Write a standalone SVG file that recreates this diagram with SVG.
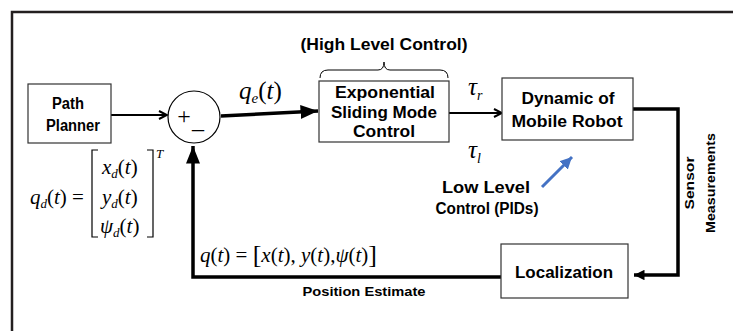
<svg xmlns="http://www.w3.org/2000/svg" width="733" height="331" viewBox="0 0 733 331">
<defs>
<style>
.box{fill:#fff;stroke:#333;stroke-width:1.2}
.lbl{font-family:"Liberation Sans",Arial,sans-serif;font-weight:bold;font-size:16px;fill:#000;text-anchor:middle}
.sm{font-size:12px}
.math{font-family:"Liberation Serif","Times New Roman",serif;font-style:italic;fill:#000}
.up{font-style:normal}
.wire{fill:none;stroke:#000;stroke-width:2}
.thick{fill:none;stroke:#000;stroke-width:3.5}
</style>
<marker id="open" viewBox="0 0 10 10" refX="9" refY="5" markerWidth="10" markerHeight="10" markerUnits="userSpaceOnUse" orient="auto"><path d="M1,1 L9,5 L1,9" fill="none" stroke="#000" stroke-width="2"/></marker>
<marker id="fill" viewBox="0 0 10 10" refX="10" refY="5" markerWidth="5" markerHeight="5" orient="auto"><path d="M0,1 L10,5 L0,9 Z" fill="#000"/></marker>
<marker id="small" viewBox="0 0 10 10" refX="10" refY="5" markerWidth="3" markerHeight="3" orient="auto"><path d="M0,0 L10,5 L0,10 Z" fill="#000"/></marker>
<marker id="blue" viewBox="0 0 10 10" refX="10" refY="5" markerWidth="4" markerHeight="4" orient="auto"><path d="M0,0 L10,5 L0,10 Z" fill="#4472C4"/></marker>
</defs>
<rect width="733" height="331" fill="#fff"/>
<path d="M12,331 V12 H733" fill="none" stroke="#231f20" stroke-width="2.5"/>

<g id="connectors">
<path class="wire" d="M111,115 H167" marker-end="url(#open)"/>
<path class="thick" d="M221,116 L318,111" marker-end="url(#fill)"/>
<path class="wire" d="M449,113 H502" marker-end="url(#open)"/>
<path class="thick" d="M633,109 H678 V275 H634" marker-end="url(#small)"/>
<path class="thick" d="M501,277 H193 V146" marker-end="url(#fill)"/>
<path d="M542,187 L572,157" fill="none" stroke="#4472C4" stroke-width="3" marker-end="url(#blue)"/>
<path d="M320,78 Q320,70 328,70 H378 Q384,70 384,62 Q384,70 390,70 H440 Q448,70 448,78" fill="none" stroke="#000" stroke-width="1"/>
</g>

<g id="path-planner">
<rect class="box" x="28" y="84" width="83" height="59"/>
<text class="lbl" x="68" y="109" textLength="32" lengthAdjust="spacingAndGlyphs">Path</text>
<text class="lbl" x="73" y="131" textLength="54" lengthAdjust="spacingAndGlyphs">Planner</text>
</g>

<g id="sum">
<circle cx="194" cy="117" r="26" fill="#fff" stroke="#000" stroke-width="1.2"/>
<text x="184" y="124" font-family="Liberation Serif,serif" font-size="24" text-anchor="middle">+</text>
<text x="198" y="128" font-family="Liberation Serif,serif" font-size="24" text-anchor="middle">_</text>
</g>

<g id="smc">
<rect class="box" x="319" y="81" width="130" height="61"/>
<text class="lbl" x="385" y="98" textLength="100" lengthAdjust="spacingAndGlyphs">Exponential</text>
<text class="lbl" x="384" y="118" textLength="106" lengthAdjust="spacingAndGlyphs">Sliding Mode</text>
<text class="lbl" x="384" y="137" textLength="62" lengthAdjust="spacingAndGlyphs">Control</text>
</g>

<g id="robot">
<rect class="box" x="502" y="78" width="131" height="62"/>
<text class="lbl" x="568" y="104" textLength="93" lengthAdjust="spacingAndGlyphs">Dynamic of</text>
<text class="lbl" x="567" y="127" textLength="111" lengthAdjust="spacingAndGlyphs">Mobile Robot</text>
</g>

<g id="localization">
<rect class="box" x="501" y="244" width="127" height="54"/>
<text class="lbl" x="564" y="278" textLength="98" lengthAdjust="spacingAndGlyphs">Localization</text>
</g>

<g id="labels">
<text class="lbl" x="384" y="50" textLength="167" lengthAdjust="spacingAndGlyphs">(High Level Control)</text>
<text class="lbl" x="486" y="193" textLength="88" lengthAdjust="spacingAndGlyphs">Low Level</text>
<text class="lbl" x="487" y="214" textLength="103" lengthAdjust="spacingAndGlyphs">Control (PIDs)</text>
<text class="lbl sm" x="364" y="296" textLength="123" lengthAdjust="spacingAndGlyphs">Position Estimate</text>
<text class="lbl sm" transform="translate(694,183) rotate(-90)" textLength="53" lengthAdjust="spacingAndGlyphs">Sensor</text>
<text class="lbl sm" transform="translate(715,183) rotate(-90)" textLength="100" lengthAdjust="spacingAndGlyphs">Measurements</text>

<text class="math" x="239" y="99" font-size="25">q<tspan font-size="15" dy="4">e</tspan><tspan class="up" dy="-4">(</tspan>t<tspan class="up">)</tspan></text>
<text class="math" x="468" y="95" font-size="25">τ<tspan font-size="14" dy="5">r</tspan></text>
<text class="math" x="468" y="158" font-size="25">τ<tspan font-size="14" dy="5">l</tspan></text>

<text class="math" x="30" y="204" font-size="21">q<tspan font-size="13" dy="4">d</tspan><tspan class="up" dy="-4">(</tspan>t<tspan class="up">) =</tspan></text>
<path d="M98,150 H92 V237 H98 M147,150 H153 V237 H147" fill="none" stroke="#000" stroke-width="1.2"/>
<text class="math" x="156" y="158" font-size="13">T</text>
<text class="math" x="102" y="174" font-size="21">x<tspan font-size="13" dy="4">d</tspan><tspan class="up" dy="-4">(</tspan>t<tspan class="up">)</tspan></text>
<text class="math" x="102" y="204" font-size="21">y<tspan font-size="13" dy="4">d</tspan><tspan class="up" dy="-4">(</tspan>t<tspan class="up">)</tspan></text>
<text class="math" x="100" y="233" font-size="21">ψ<tspan font-size="13" dy="4">d</tspan><tspan class="up" dy="-4">(</tspan>t<tspan class="up">)</tspan></text>

<text class="math" x="200" y="262" font-size="21">q<tspan class="up">(</tspan>t<tspan class="up">) = </tspan><tspan class="up" font-size="26" dy="1">[</tspan><tspan dy="-1">x</tspan><tspan class="up">(</tspan>t<tspan class="up">), </tspan>y<tspan class="up">(</tspan>t<tspan class="up">),</tspan>ψ<tspan class="up">(</tspan>t<tspan class="up">)</tspan><tspan class="up" font-size="26" dy="1">]</tspan></text>
</g>
</svg>
